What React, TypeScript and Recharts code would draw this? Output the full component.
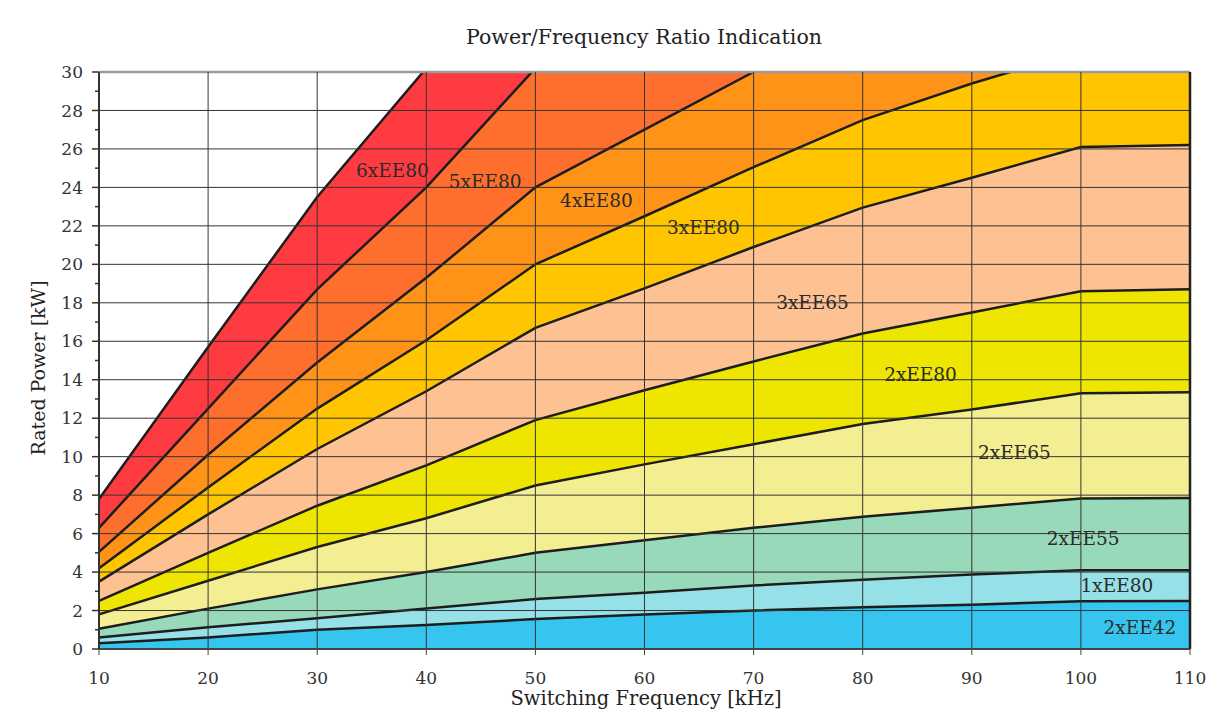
import React from 'react';
import { AreaChart, Area, XAxis, YAxis, ReferenceLine, ReferenceDot } from 'recharts';

const freqs = [10, 20, 30, 40, 50, 60, 70, 80, 90, 100, 110];

// upper boundary of each band (kW); values above 30 sit outside the view
const top6xEE80 = [7.8, 15.7, 23.5, 30.2, 36, 42, 48, 54, 60, 66, 68];
const top5xEE80 = [6.3, 12.5, 18.7, 24.0, 30.2, 35, 40, 45, 50, 55, 56];
const top4xEE80 = [5.05, 10.1, 14.9, 19.3, 24.0, 27.0, 30.0, 33, 36, 39, 40];
const top3xEE80 = [4.2, 8.4, 12.5, 16.05, 20.0, 22.5, 25.05, 27.5, 29.4, 31.1, 31.5];
const top3xEE65 = [3.5, 7.0, 10.4, 13.4, 16.7, 18.75, 20.9, 22.95, 24.5, 26.1, 26.2];
const top2xEE80 = [2.5, 5.0, 7.45, 9.55, 11.9, 13.45, 14.95, 16.4, 17.5, 18.6, 18.7];
const top2xEE65 = [1.8, 3.55, 5.3, 6.8, 8.5, 9.6, 10.65, 11.7, 12.45, 13.3, 13.35];
const top2xEE55 = [1.05, 2.1, 3.1, 4.0, 5.0, 5.65, 6.3, 6.87, 7.35, 7.83, 7.85];
const top1xEE80 = [0.6, 1.13, 1.6, 2.1, 2.6, 2.92, 3.3, 3.6, 3.87, 4.1, 4.1];
const top2xEE42 = [0.3, 0.6, 1.0, 1.25, 1.56, 1.8, 2.0, 2.17, 2.3, 2.48, 2.5];

const seriesNames = ['6xEE80', '5xEE80', '4xEE80', '3xEE80', '3xEE65', '2xEE80', '2xEE65', '2xEE55', '1xEE80', '2xEE42'];
const seriesTops = [top6xEE80, top5xEE80, top4xEE80, top3xEE80, top3xEE65, top2xEE80, top2xEE65, top2xEE55, top1xEE80, top2xEE42];
const seriesColors = ['#fe3b40', '#fe6e2c', '#fe9318', '#fec500', '#fec192', '#eee600', '#f4ee92', '#98d9ba', '#96e0e8', '#36c5ee'];

// where each band's name is written (kHz, kW)
const labelX = [36.9, 45.4, 55.6, 65.4, 75.4, 85.3, 93.9, 100.2, 103.3, 105.4];
const labelY = [24.9, 24.3, 23.3, 21.9, 18.0, 14.3, 10.2, 5.77, 3.28, 1.14];

const xTicks = [10, 20, 30, 40, 50, 60, 70, 80, 90, 100, 110];
const yTicks = Array.from({ length: 31 }, (_, i) => i);
const hGrid = [2, 4, 6, 8, 10, 12, 14, 16, 18, 20, 22, 24, 26, 28];
const vGrid = [20, 30, 40, 50, 60, 70, 80, 90, 100];

const FONT = '"DejaVu Serif", serif';

const data = freqs.map((f, i) => {
  const row: Record<string, number> = { f };
  seriesNames.forEach((n, k) => {
    row[n] = seriesTops[k][i];
  });
  return row;
});

function YTick(props: any) {
  const { x, y, payload } = props;
  const axisX = x + 16;
  const major = payload.value % 2 === 0;
  return (
    <g>
      <line x1={axisX - (major ? 7 : 4)} x2={axisX} y1={y} y2={y} stroke="#333" strokeWidth={1.5} />
      {major && (
        <text x={x} y={y} dy="0.36em" textAnchor="end" fontSize={17} fontFamily={FONT} fill="#333">
          {payload.value}
        </text>
      )}
    </g>
  );
}

export default function App() {
  return (
    <div style={{ width: 1202, height: 706, background: '#fff' }}>
      <AreaChart width={1202} height={706} data={data} margin={{ top: 64, right: 20, bottom: 0, left: 31 }}>
        <XAxis
          dataKey="f"
          type="number"
          domain={[10, 110]}
          ticks={xTicks}
          interval={0}
          height={65}
          tickSize={6}
          tickMargin={17}
          axisLine={{ stroke: '#444', strokeWidth: 2 }}
          tickLine={{ stroke: '#444' }}
          tick={{ fontSize: 17, fontFamily: FONT, fill: '#333' }}
        />
        <YAxis
          type="number"
          domain={[0, 30]}
          allowDataOverflow
          ticks={yTicks}
          interval={0}
          width={60}
          tickSize={7}
          tickMargin={9}
          tickLine={false}
          axisLine={{ stroke: '#333', strokeWidth: 2 }}
          tick={<YTick />}
        />
        {hGrid.map((v) => (
          <ReferenceLine key={'h' + v} y={v} stroke="#333" strokeWidth={1} />
        ))}
        <ReferenceLine y={30} stroke="#9a9a9a" strokeWidth={2.5} />
        {seriesNames.map((n, k) => (
          <Area
            key={n}
            type="linear"
            dataKey={n}
            stroke="#1d1d1d"
            strokeWidth={2.5}
            fill={seriesColors[k]}
            fillOpacity={1}
            dot={false}
            activeDot={false}
            isAnimationActive={false}
          />
        ))}
        {vGrid.map((v) => (
          <ReferenceLine key={'v' + v} x={v} stroke="#333" strokeWidth={1} />
        ))}
        <ReferenceLine x={110} stroke="#222" strokeWidth={2.5} />
        {seriesNames.map((n, k) => (
          <ReferenceDot
            key={'l' + n}
            x={labelX[k]}
            y={labelY[k]}
            r={0}
            fill="none"
            stroke="none"
            ifOverflow="visible"
            label={{ value: n, position: 'center', fontSize: 18.5, fontFamily: FONT, fill: '#2b2b2b' }}
          />
        ))}
        <text x={636} y={36} textAnchor="middle" fontSize={20.5} fontFamily={FONT} fill="#222">
          Power/Frequency Ratio Indication
        </text>
        <text x={638} y={697} textAnchor="middle" fontSize={19.5} fontFamily={FONT} fill="#222">
          Switching Frequency [kHz]
        </text>
        <text
          transform="translate(30,360) rotate(-90)"
          textAnchor="middle"
          dominantBaseline="central"
          fontSize={19}
          fontFamily={FONT}
          fill="#222"
        >
          Rated Power [kW]
        </text>
      </AreaChart>
    </div>
  );
}
